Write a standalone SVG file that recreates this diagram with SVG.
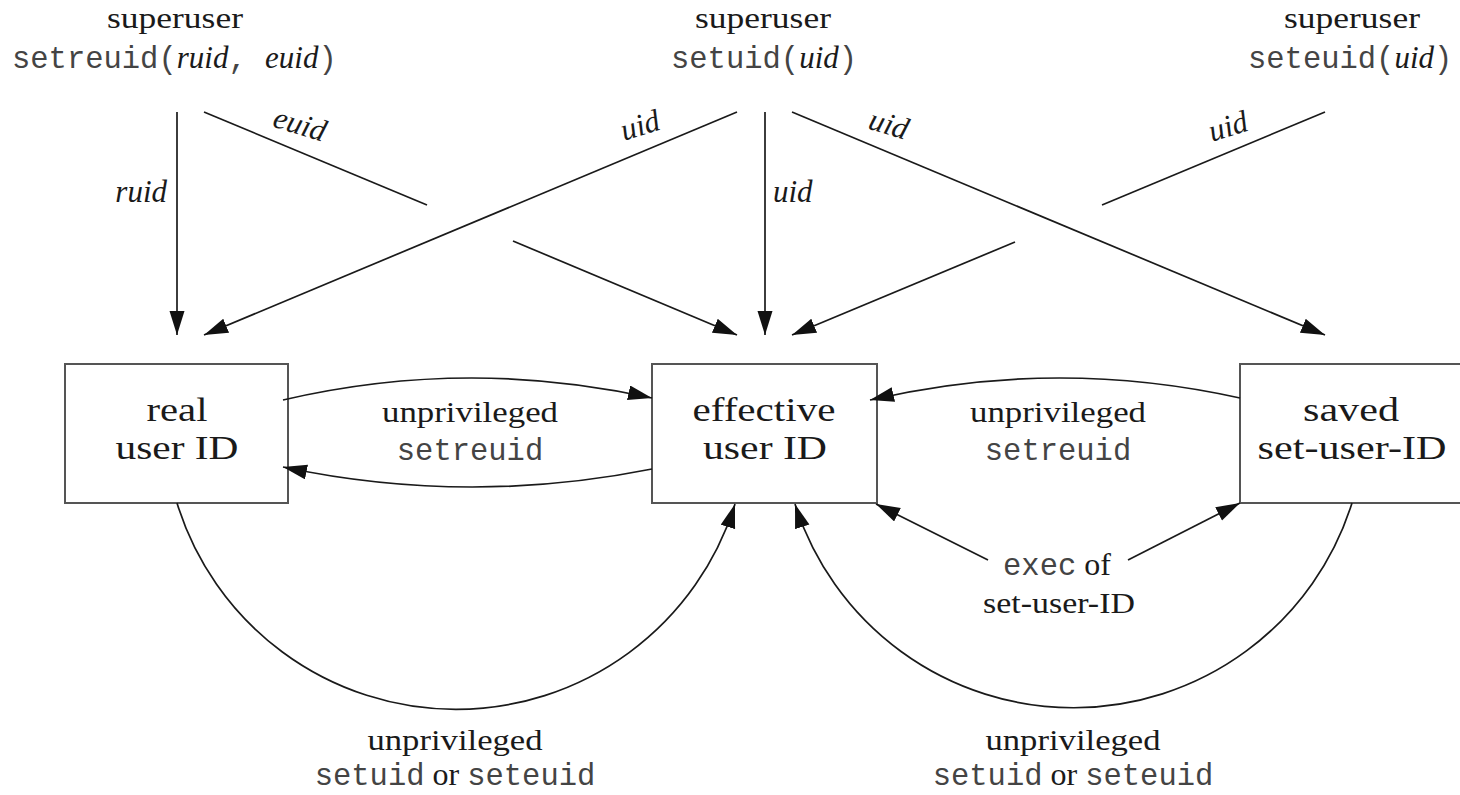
<svg xmlns="http://www.w3.org/2000/svg" width="1460" height="795" viewBox="0 0 1460 795">
<style>
.bg{fill:#ffffff}
.box{fill:#ffffff;stroke:#555;stroke-width:2}
.ln{fill:none;stroke:#1a1a1a;stroke-width:1.7}
.lb{font-family:"Liberation Serif","Times New Roman",serif;font-size:34px;fill:#1a1a1a;text-anchor:middle}
.sr{font-family:"Liberation Serif","Times New Roman",serif;font-size:29px;fill:#1a1a1a;text-anchor:middle}
.it{font-family:"Liberation Serif","Times New Roman",serif;font-style:italic;font-size:31px;fill:#1a1a1a}
.mn{font-family:"Liberation Mono","Courier New",monospace;font-size:30.5px;fill:#444}
.or{font-family:"Liberation Serif","Times New Roman",serif;font-size:32px;fill:#1a1a1a}
.mid{text-anchor:middle}
</style>
<defs>
<marker id="ah" markerUnits="userSpaceOnUse" markerWidth="26" markerHeight="16" refX="24" refY="7.5" orient="auto">
<path d="M0,0 L24,7.5 L0,15 z" fill="#111"/>
</marker>
</defs>
<rect class="bg" x="0" y="0" width="1460" height="795"/>

<g id="src-setreuid">
<text class="sr" x="175" y="28" textLength="136" lengthAdjust="spacingAndGlyphs">superuser</text>
<text x="12" y="68"><tspan class="mn">setreuid(</tspan><tspan class="it">ruid</tspan><tspan class="mn">, </tspan><tspan class="it">euid</tspan><tspan class="mn">)</tspan></text>
</g>
<g id="src-setuid">
<text class="sr" x="763" y="28" textLength="136" lengthAdjust="spacingAndGlyphs">superuser</text>
<text x="671" y="68"><tspan class="mn">setuid(</tspan><tspan class="it">uid</tspan><tspan class="mn">)</tspan></text>
</g>
<g id="src-seteuid">
<text class="sr" x="1352" y="28" textLength="136" lengthAdjust="spacingAndGlyphs">superuser</text>
<text x="1248" y="68"><tspan class="mn">seteuid(</tspan><tspan class="it">uid</tspan><tspan class="mn">)</tspan></text>
</g>

<g id="real">
<rect class="box" x="65" y="364" width="223" height="139"/>
<text class="lb" x="177" y="421" textLength="61" lengthAdjust="spacingAndGlyphs">real</text>
<text class="lb" x="177" y="459" textLength="123" lengthAdjust="spacingAndGlyphs">user ID</text>
</g>
<g id="effective">
<rect class="box" x="652" y="364" width="225" height="139"/>
<text class="lb" x="764" y="421" textLength="143" lengthAdjust="spacingAndGlyphs">effective</text>
<text class="lb" x="765" y="459" textLength="124" lengthAdjust="spacingAndGlyphs">user ID</text>
</g>
<g id="saved">
<rect class="box" x="1240" y="364" width="226" height="139"/>
<text class="lb" x="1351" y="421" textLength="96" lengthAdjust="spacingAndGlyphs">saved</text>
<text class="lb" x="1352" y="459" textLength="189" lengthAdjust="spacingAndGlyphs">set-user-ID</text>
</g>

<g id="connectors">
<line class="ln" x1="177" y1="112" x2="177" y2="335" marker-end="url(#ah)"/>
<line class="ln" x1="737" y1="112" x2="204" y2="335" marker-end="url(#ah)"/>
<line class="ln" x1="204" y1="112" x2="427" y2="205"/>
<line class="ln" x1="513" y1="241" x2="737" y2="335" marker-end="url(#ah)"/>
<line class="ln" x1="765" y1="112" x2="765" y2="335" marker-end="url(#ah)"/>
<line class="ln" x1="792" y1="112" x2="1325" y2="335" marker-end="url(#ah)"/>
<line class="ln" x1="1325" y1="112" x2="1102" y2="205"/>
<line class="ln" x1="1015" y1="242" x2="792" y2="335" marker-end="url(#ah)"/>

<path class="ln" d="M283,400 Q467,357 652,398" marker-end="url(#ah)"/>
<path class="ln" d="M652,469 Q467,506 283,467" marker-end="url(#ah)"/>
<path class="ln" d="M1240,398 Q1055,357 870,400" marker-end="url(#ah)"/>

<line class="ln" x1="988" y1="560" x2="876" y2="504" marker-end="url(#ah)"/>
<line class="ln" x1="1128" y1="560" x2="1240" y2="503" marker-end="url(#ah)"/>

<path class="ln" d="M177,503 A292 292 0 0 0 735,504" marker-end="url(#ah)"/>
<path class="ln" d="M1352,503 A292 292 0 0 1 795,504" marker-end="url(#ah)"/>

<text class="it" x="167" y="202" text-anchor="end">ruid</text>
<text class="it" x="773" y="202">uid</text>
<text class="it mid" transform="translate(297,134) rotate(17)">euid</text>
<text class="it mid" transform="translate(643,135) rotate(-17)">uid</text>
<text class="it mid" transform="translate(886,134) rotate(17)">uid</text>
<text class="it mid" transform="translate(1231,136) rotate(-17)">uid</text>

<text class="sr" x="470" y="422" textLength="176" lengthAdjust="spacingAndGlyphs">unprivileged</text>
<text class="mn mid" x="470" y="460">setreuid</text>
<text class="sr" x="1058" y="422" textLength="176" lengthAdjust="spacingAndGlyphs">unprivileged</text>
<text class="mn mid" x="1058" y="460">setreuid</text>

<text class="mid" x="1057" y="575"><tspan class="mn">exec</tspan><tspan class="or"> of</tspan></text>
<text class="sr" x="1059" y="613" textLength="152" lengthAdjust="spacingAndGlyphs">set-user-ID</text>

<text class="sr" x="455" y="750" textLength="175" lengthAdjust="spacingAndGlyphs">unprivileged</text>
<text class="mid" x="455" y="785"><tspan class="mn">setuid</tspan><tspan class="or"> or </tspan><tspan class="mn">seteuid</tspan></text>
<text class="sr" x="1073" y="750" textLength="175" lengthAdjust="spacingAndGlyphs">unprivileged</text>
<text class="mid" x="1073" y="785"><tspan class="mn">setuid</tspan><tspan class="or"> or </tspan><tspan class="mn">seteuid</tspan></text>
</g>
</svg>
